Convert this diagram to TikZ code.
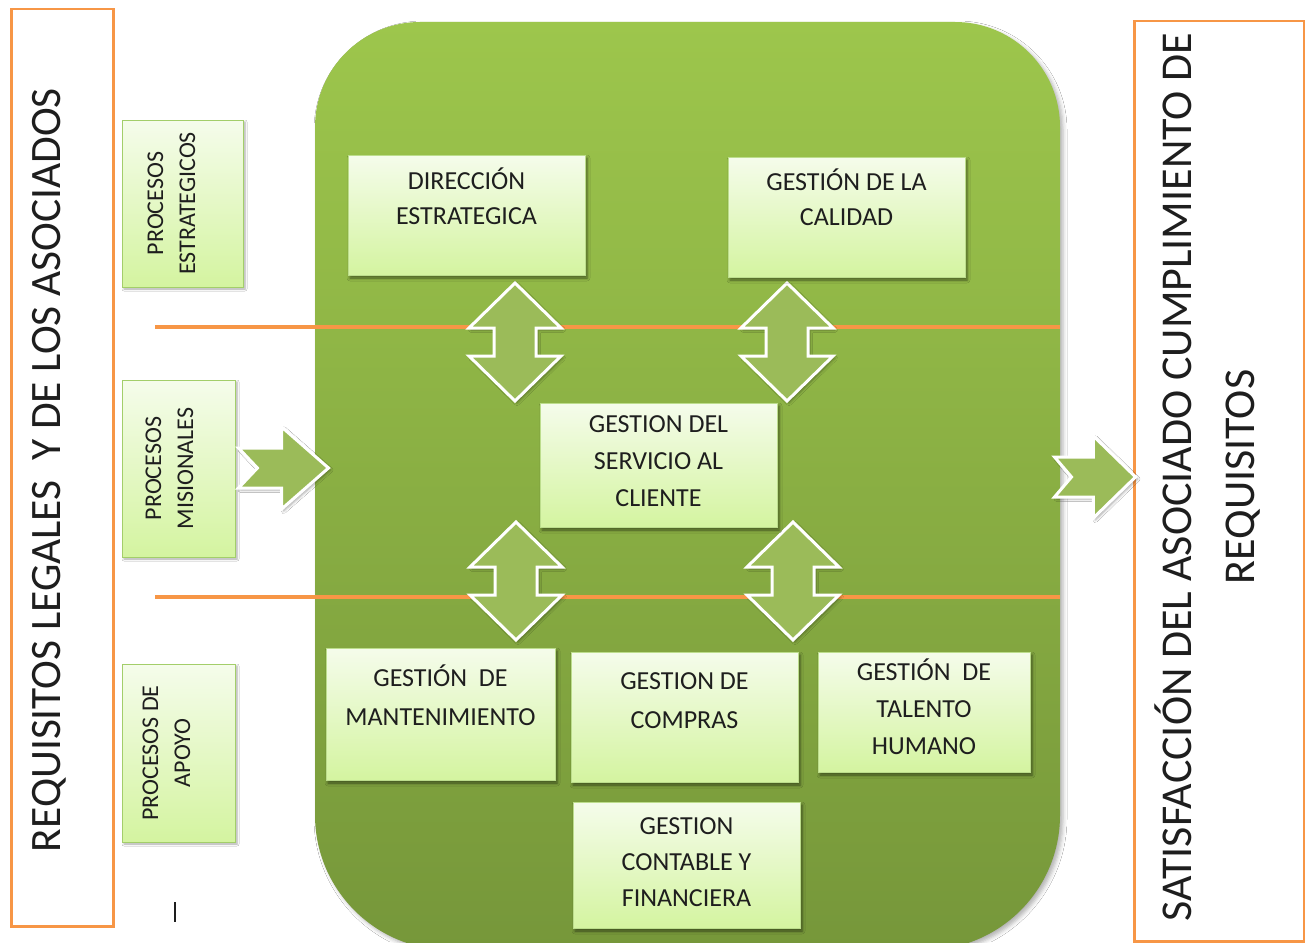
\documentclass[tikz,border=0pt]{standalone}
\usepackage{fontspec}
\setmainfont{Carlito}
\usetikzlibrary{shadows.blur}
\definecolor{orng}{HTML}{F79646}
\definecolor{gtop}{HTML}{9DC64C}
\definecolor{gbot}{HTML}{76973A}
\definecolor{arrg}{HTML}{9BBB59}
\definecolor{btop}{HTML}{F5FCEB}
\definecolor{bbot}{HTML}{D4F4A0}
\definecolor{bedge}{HTML}{BCDD8C}
\definecolor{ledge}{HTML}{A3CE6A}
\definecolor{ink}{HTML}{1E1E1E}

\newcommand\boxtxt[5]{\parbox[c][#2pt][t]{#1pt}{\centering\fontsize{26}{#4}\selectfont\rule{0pt}{#3pt}#5\par}}
\newcommand\lbltxt[4]{\rotatebox{90}{\parbox[c][#2pt][t]{#1pt}{\centering\fontsize{24}{32}\selectfont\rule{0pt}{#3pt}#4\par}}}
\newcommand\uparr[2]{\draw[blockarrow] (#1,#2-59) -- (#1+46,#2-14) -- (#1+21,#2-14) -- (#1+21,#2+14) -- (#1+46,#2+14) -- (#1,#2+59) -- (#1-46,#2+14) -- (#1-21,#2+14) -- (#1-21,#2-14) -- (#1-46,#2-14) -- cycle;}
\newcommand\rtarr[3]{\draw[blockarrow] (#1,#2-20) -- (#1+0.48*#3,#2-20) -- (#1+0.48*#3,#2-41) -- (#1+#3,#2) -- (#1+0.48*#3,#2+41) -- (#1+0.48*#3,#2+20) -- (#1,#2+20) -- (#1+0.21*#3,#2) -- cycle;}

\begin{document}
\begin{tikzpicture}[x=1pt,y=-1pt,
  gbox/.style={draw=bedge, line width=0.6pt, top color=btop, bottom color=bbot, inner sep=0pt, outer sep=0pt, anchor=north west, text=ink,
    blur shadow={shadow xshift=2pt, shadow yshift=-3pt, shadow blur radius=3pt, shadow opacity=50}},
  lbox/.style={draw=ledge, line width=1pt, top color=btop, bottom color=bbot, inner sep=0pt, outer sep=0pt, anchor=north west, text=ink,
    blur shadow={shadow xshift=2pt, shadow yshift=-2pt, shadow blur radius=2pt, shadow opacity=35}},
  obox/.style={draw=orng, line width=2.5pt, fill=white, inner sep=0pt, anchor=north west},
  sepline/.style={draw=orng, line width=4pt},
  blockarrow/.style={fill=arrg, draw=white, line width=3pt,
    blur shadow={shadow xshift=2pt, shadow yshift=-2pt, shadow blur radius=2.5pt, shadow opacity=35}},
  bigtext/.style={rotate=90, anchor=base, text=ink, inner sep=0pt, font=\fontsize{43.4}{52}\selectfont}
]
\useasboundingbox (0,0) rectangle (1305,942);
\fill[white] (0,0) rectangle (1305,942);

% big green rounded area
\path[top color=gtop, bottom color=gbot,
  blur shadow={shadow xshift=3pt, shadow yshift=-3pt, shadow blur radius=4pt, shadow opacity=30}]
  (687,22) [rounded corners=105pt] -- (315,22) -- (315,500) [rounded corners=135pt] -- (315,950) -- (1060,950) -- (1060,500) [rounded corners=105pt] -- (1060,22) -- cycle;

% separator lines
\coordinate (s1a) at (155,327);
\coordinate (s1b) at (1060,327);
\coordinate (s2a) at (155,597);
\coordinate (s2b) at (1060,597);
\draw[sepline] (s1a) -- (s1b);
\draw[sepline] (s2a) -- (s2b);

% double block arrows
\uparr{515}{342}
\uparr{787}{342}
\uparr{516}{581}
\uparr{793}{581}

% left outer box
\node[obox, minimum width=102pt, minimum height=917pt] (req) at (10,8) {};
\node[bigtext] (reqt) at (60,470) {REQUISITOS LEGALES~~Y DE LOS ASOCIADOS};

% right outer box
\node[obox, minimum width=170pt, minimum height=920pt] (sat) at (1133,20) {};
\node[bigtext, font=\fontsize{44}{52}\selectfont] (sat1) at (1191,477) {SATISFACCIÓN DEL ASOCIADO CUMPLIMIENTO DE};
\node[bigtext, font=\fontsize{44}{52}\selectfont] (sat2) at (1254,477) {REQUISITOS};

% process labels
\node[lbox] (pe) at (122,120) {\lbltxt{167}{121}{41}{PROCESOS\\ESTRATEGICOS}};
\node[lbox] (pm) at (122,380) {\lbltxt{177}{113}{39}{PROCESOS\\MISIONALES}};
\node[lbox] (pa) at (122,664) {\lbltxt{178}{113}{36}{PROCESOS DE\\APOYO}};

% process boxes
\node[gbox] (dir) at (348,155) {\boxtxt{237}{120}{34}{35}{DIRECCIÓN\\ESTRATEGICA}};
\node[gbox] (cal) at (728,157) {\boxtxt{237}{120}{33}{35}{GESTIÓN DE LA\\CALIDAD}};
\node[gbox] (serv) at (540,403) {\boxtxt{237}{124}{29}{37}{GESTION DEL\\SERVICIO AL\\CLIENTE}};
\node[gbox] (mant) at (326,648) {\boxtxt{229}{132}{38}{39}{GESTIÓN~~DE\\MANTENIMIENTO}};
\node[gbox] (comp) at (571,652) {\boxtxt{227}{130}{37}{39}{GESTION DE\\COMPRAS}};
\node[gbox] (tal) at (818,652) {\boxtxt{212}{120}{28}{37}{GESTIÓN~~DE\\TALENTO\\HUMANO}};
\node[gbox] (cont) at (573,802) {\boxtxt{227}{126}{32}{36}{GESTION\\CONTABLE Y\\FINANCIERA}};

% in / out arrows
\rtarr{238.5}{468}{90}
\rtarr{1054.5}{477}{81}

% stray mark
\node[fill=ink, inner sep=0pt, minimum width=1.5pt, minimum height=20pt] (mark) at (175,912) {};
\end{tikzpicture}
\end{document}
